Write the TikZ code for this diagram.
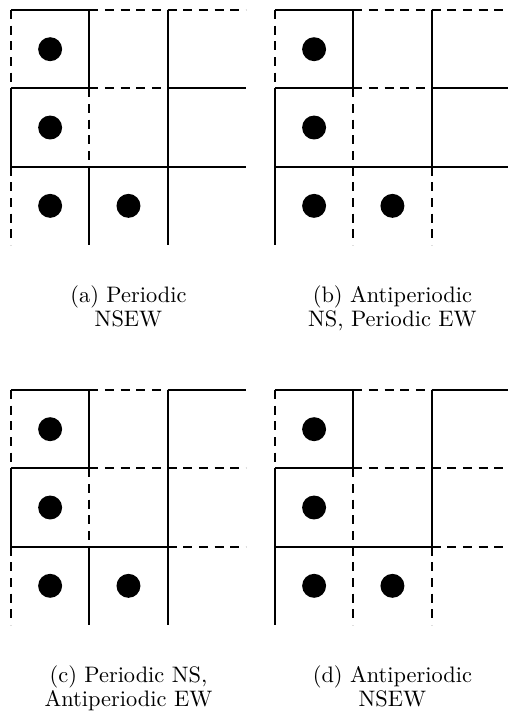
\documentclass[tikz,border=0pt]{standalone}
\usepackage{tikz}

\begin{document}
\begin{tikzpicture}[x=35pt,y=35pt,
    solidedge/.style={line width=0.9pt},
    flipedge/.style={line width=0.9pt, dash pattern=on 4pt off 3pt},
    site/.style={circle, fill=black, inner sep=0pt, minimum size=10.7pt},
    caption/.style={anchor=north, inner sep=0pt, align=center,
      font=\fontsize{10}{10.3}\selectfont}]

    \useasboundingbox (-0.140,0.128) rectangle (6.345,-8.949);

    % panel (a): periodic NSEW
    \begin{scope}
    % draw horizontal edges
    \foreach \r/\c/\s in {0/0/solidedge,0/1/flipedge,0/2/flipedge,
                          1/0/solidedge,1/1/flipedge,1/2/solidedge,
                          2/0/solidedge,2/1/solidedge,2/2/solidedge}
    \draw[\s] (\c,-\r) -- ++(1,0);
    % draw vertical edges
    \foreach \r/\c/\s in {0/0/flipedge,1/0/solidedge,2/0/flipedge,
                          0/1/solidedge,1/1/flipedge,2/1/solidedge,
                          0/2/solidedge,1/2/solidedge,2/2/solidedge}
    \draw[\s] (\c,-\r) -- ++(0,-1);
    % draw sites
    \foreach \x/\y [count=\i] in {0.5/0.5,0.5/1.5,0.5/2.5,1.5/2.5}
    \node[site] (a\i) at (\x,-\y) {};
    \node[caption] (capa) at (1.5,-3.52) {(a) Periodic\\NSEW};
    \end{scope}

    % panel (b): antiperiodic NS, periodic EW
    \begin{scope}[shift={(3.370,0)}]
    % draw horizontal edges
    \foreach \r/\c/\s in {0/0/solidedge,0/1/flipedge,0/2/flipedge,
                          1/0/solidedge,1/1/flipedge,1/2/solidedge,
                          2/0/solidedge,2/1/solidedge,2/2/solidedge}
    \draw[\s] (\c,-\r) -- ++(1,0);
    % draw vertical edges
    \foreach \r/\c/\s in {0/0/flipedge,1/0/solidedge,2/0/solidedge,
                          0/1/solidedge,1/1/flipedge,2/1/flipedge,
                          0/2/solidedge,1/2/solidedge,2/2/flipedge}
    \draw[\s] (\c,-\r) -- ++(0,-1);
    % draw sites
    \foreach \x/\y [count=\i] in {0.5/0.5,0.5/1.5,0.5/2.5,1.5/2.5}
    \node[site] (b\i) at (\x,-\y) {};
    \node[caption] (capb) at (1.5,-3.52) {(b) Antiperiodic\\NS, Periodic EW};
    \end{scope}

    % panel (c): periodic NS, antiperiodic EW
    \begin{scope}[shift={(0,-4.851)}]
    % draw horizontal edges
    \foreach \r/\c/\s in {0/0/solidedge,0/1/flipedge,0/2/solidedge,
                          1/0/solidedge,1/1/flipedge,1/2/flipedge,
                          2/0/solidedge,2/1/solidedge,2/2/flipedge}
    \draw[\s] (\c,-\r) -- ++(1,0);
    % draw vertical edges
    \foreach \r/\c/\s in {0/0/flipedge,1/0/solidedge,2/0/flipedge,
                          0/1/solidedge,1/1/flipedge,2/1/solidedge,
                          0/2/solidedge,1/2/solidedge,2/2/solidedge}
    \draw[\s] (\c,-\r) -- ++(0,-1);
    % draw sites
    \foreach \x/\y [count=\i] in {0.5/0.5,0.5/1.5,0.5/2.5,1.5/2.5}
    \node[site] (c\i) at (\x,-\y) {};
    \node[caption] (capc) at (1.5,-3.52) {(c) Periodic NS,\\Antiperiodic EW};
    \end{scope}

    % panel (d): antiperiodic NSEW
    \begin{scope}[shift={(3.370,-4.851)}]
    % draw horizontal edges
    \foreach \r/\c/\s in {0/0/solidedge,0/1/flipedge,0/2/solidedge,
                          1/0/solidedge,1/1/flipedge,1/2/flipedge,
                          2/0/solidedge,2/1/solidedge,2/2/flipedge}
    \draw[\s] (\c,-\r) -- ++(1,0);
    % draw vertical edges
    \foreach \r/\c/\s in {0/0/flipedge,1/0/solidedge,2/0/solidedge,
                          0/1/solidedge,1/1/flipedge,2/1/flipedge,
                          0/2/solidedge,1/2/solidedge,2/2/flipedge}
    \draw[\s] (\c,-\r) -- ++(0,-1);
    % draw sites
    \foreach \x/\y [count=\i] in {0.5/0.5,0.5/1.5,0.5/2.5,1.5/2.5}
    \node[site] (d\i) at (\x,-\y) {};
    \node[caption] (capd) at (1.5,-3.52) {(d) Antiperiodic\\NSEW};
    \end{scope}

\end{tikzpicture}
\end{document}
